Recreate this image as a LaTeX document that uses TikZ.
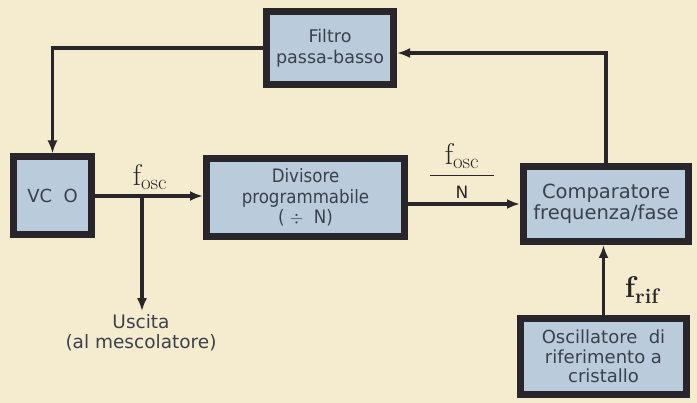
\documentclass[tikz,border=0pt]{standalone}
\usepackage{amsmath}
\usepackage{fontspec}
\setsansfont{DejaVu Sans}
\newfontfamily\narrowfont{DejaVu Sans Condensed}
\usetikzlibrary{arrows.meta}
\definecolor{paper}{RGB}{245,236,208}
\definecolor{boxfill}{RGB}{186,203,219}
\definecolor{ink}{RGB}{40,38,42}
\definecolor{label}{RGB}{58,64,76}
\newcommand{\freq}[1]{{\rmfamily f$_{\text{\rmfamily #1}}$}}

\begin{document}
\begin{tikzpicture}[x=1pt, y=-1pt,
  every node/.style={font=\sffamily\fontsize{18.5}{20}\selectfont, align=center, text=label},
  block/.style={rectangle, draw=ink, line width=7pt, fill=boxfill, inner sep=2pt},
  flabel/.style={font=\fontsize{30}{32}\selectfont, text=ink},
  conn/.style={-{Latex[length=13pt,width=10pt]}, line width=3.5pt, draw=ink}
]
\useasboundingbox[fill=paper] (0,0) rectangle (697,403);

\node[block, minimum width=127pt, minimum height=73pt, font=\sffamily\fontsize{17.5}{21}\selectfont] (filtro) at (330,48) {Filtro\\passa-basso};
\node[block, minimum width=78pt, minimum height=78pt, font=\sffamily\fontsize{18}{20}\selectfont] (vco) at (52.5,196) {VC~ O};
\node[block, minimum width=198pt, minimum height=78pt, font=\narrowfont\fontsize{18.5}{20.5}\selectfont] (div) at (305.5,197.5) {Divisore\\programmabile\\(~$\div$~ N)};
\node[block, minimum width=165pt, minimum height=75pt, font=\sffamily\fontsize{19.5}{21}\selectfont] (comp) at (606,204) {Comparatore\\frequenza/fase};
\node[block, minimum width=166pt, minimum height=76pt, font=\sffamily\fontsize{18}{19.5}\selectfont] (osc) at (603.5,356.5) {Oscillatore~ di\\riferimento a\\cristallo};

\node[flabel] (fosc) at (150,177) {\freq{osc}};
\node[flabel] (ratio) at (462,171) {$\genfrac{}{}{1.3pt}{0}{\makebox[64pt]{\freq{osc}}}{\text{\sffamily\fontsize{17}{20}\selectfont N}}$};
\node[flabel] (frif) at (642,290) {\bfseries\freq{rif}};
\node (uscita) at (141,333) {Uscita\\(al mescolatore)};

\coordinate (tap) at ([xshift=47pt]vco.east);

\draw[conn] (filtro.west) -| (vco.north);
\draw[conn] (comp.north) |- ([yshift=-5pt]filtro.east);
\draw[conn] (vco.east) -- (vco.east -| div.west);
\draw[conn] (tap) -- (tap |- uscita.north);
\draw[conn] (div.east |- comp.west) -- (comp.west);
\draw[conn] (osc.north) -- (osc.north |- comp.south);
\end{tikzpicture}
\end{document}
